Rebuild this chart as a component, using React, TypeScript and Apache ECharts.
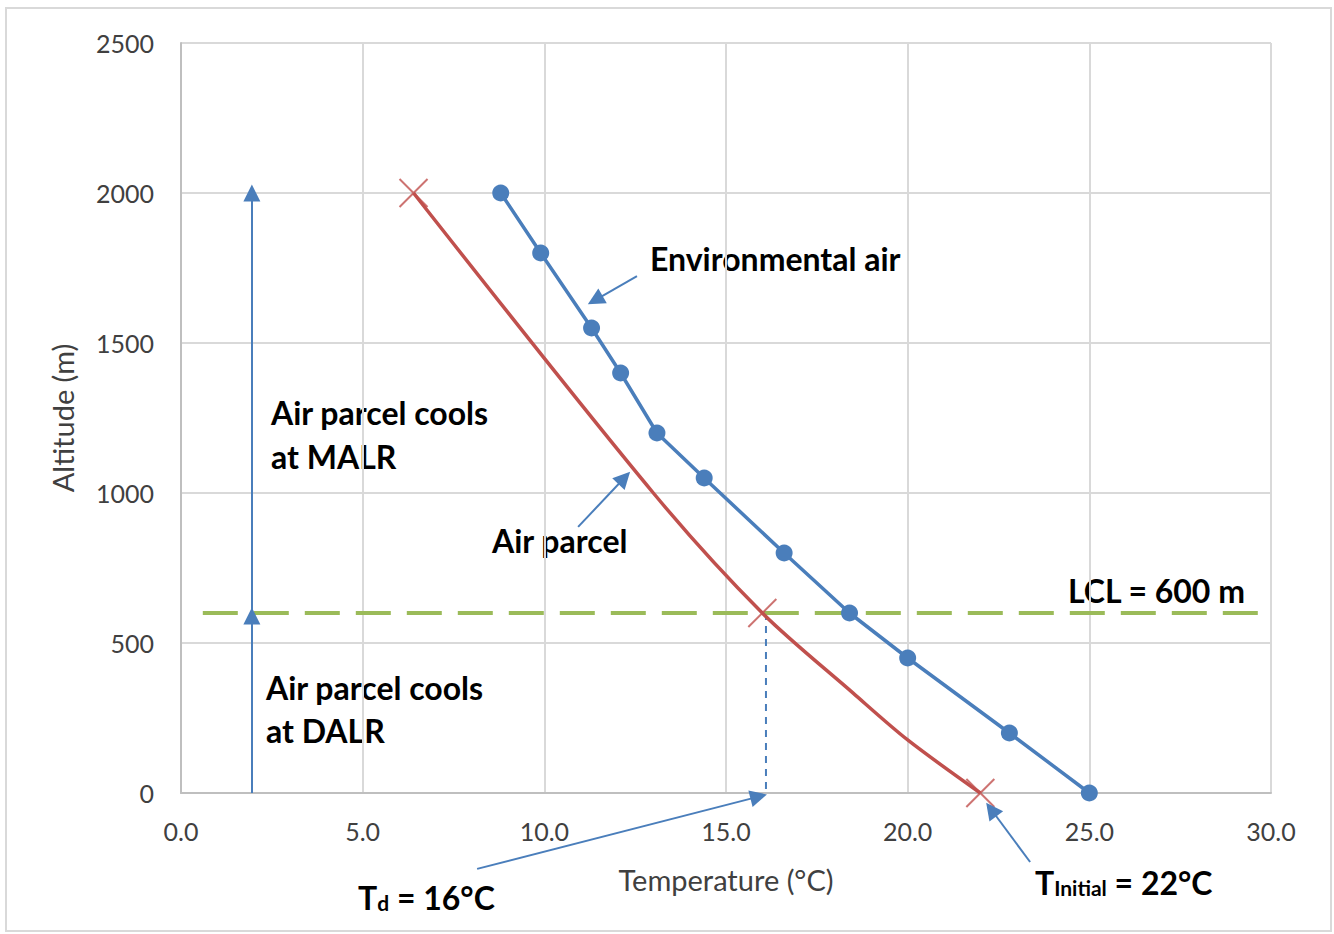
import React, { useEffect, useRef } from "react";
import * as echarts from "echarts";

// ---- data ----
const envTemp = [25.0, 22.8, 20.0, 18.4, 16.6, 14.4, 13.1, 12.1, 11.3, 9.9, 8.8];
const envAlt = [0, 200, 450, 600, 800, 1050, 1200, 1400, 1550, 1800, 2000];

const parcelTemp = [22.0, 20.0, 18.5, 16.0, 13.0, 6.4];
const parcelAlt = [0, 177, 333, 600, 1000, 2000];

const parcelMarkTemp = [22.0, 16.0, 6.4];
const parcelMarkAlt = [0, 600, 2000];

const lclAlt = 600;
const lclTempRange = [0.6, 30];

const dewPoint = 16.1;

// arrows [x1, y1, x2, y2] in data units (temperature, altitude)
const arrowDALR = [1.95, 0, 1.95, 590];
const arrowMALR = [1.95, 600, 1.95, 2000];
const arrowEnv = [12.55, 1723, 11.4, 1643];
const arrowParcel = [10.93, 887, 12.2, 1050];
const arrowTd = [8.15, -253, 15.9, -12];
const arrowTi = [23.37, -230, 22.3, -55];

const xTicks = { min: 0, max: 30, interval: 5 };
const yTicks = { min: 0, max: 2500, interval: 500 };

const BLUE = "#4A7EBB";
const RED = "#C0504D";
const GREEN = "#9BBB59";
const FONT = "Lato, 'Open Sans', sans-serif";
const BOLD = 32;
const SUB = 21;

export default function App() {
  const ref = useRef<HTMLDivElement>(null);

  useEffect(() => {
    if (!ref.current) return;
    const chart = echarts.init(ref.current, undefined, { renderer: "svg" });

    const pairs = (xs: number[], ys: number[]) => xs.map((x, i) => [x, ys[i]]);
    const arrowData = [arrowDALR, arrowMALR, arrowEnv, arrowParcel, arrowTd, arrowTi].map((a) => ({
      coords: [
        [a[0], a[1]],
        [a[2], a[3]],
      ],
    }));

    const boldText = (x: number, y: number, text: string, size = BOLD) => ({
      type: "text",
      x,
      y,
      style: {
        text,
        fill: "#000",
        font: `bold ${size}px ${FONT}`,
        textVerticalAlign: "middle",
        textAlign: "left",
      },
    });

    const subText = (x: number, y: number, main: string, sub: string, rest: string) => ({
      type: "text",
      x,
      y,
      style: {
        text: `{a|${main}}{b|${sub}}{a|${rest}}`,
        textVerticalAlign: "middle",
        rich: {
          a: { font: `bold ${BOLD}px ${FONT}`, fill: "#000", verticalAlign: "bottom" },
          b: { font: `bold ${SUB}px ${FONT}`, fill: "#000", verticalAlign: "bottom" },
        },
      },
    });

    const option: any = {
      animation: false,
      backgroundColor: "#fff",
      grid: { left: 181, right: 63, top: 43, bottom: 141, containLabel: false },
      xAxis: {
        type: "value",
        min: xTicks.min,
        max: xTicks.max,
        interval: xTicks.interval,
        name: "Temperature (°C)",
        nameLocation: "middle",
        nameGap: 72,
        nameTextStyle: { fontFamily: FONT, fontSize: 29, color: "#404040" },
        axisLine: { show: true, lineStyle: { color: "#BFBFBF", width: 2 } },
        axisTick: { show: false },
        axisLabel: {
          fontFamily: FONT,
          fontSize: 25,
          color: "#404040",
          margin: 25,
          formatter: (v: number) => v.toFixed(1),
        },
        splitLine: { show: true, lineStyle: { color: "#D9D9D9", width: 2 } },
      },
      yAxis: {
        type: "value",
        min: yTicks.min,
        max: yTicks.max,
        interval: yTicks.interval,
        name: "Altitude (m)",
        nameLocation: "middle",
        nameGap: 104,
        nameRotate: 90,
        nameTextStyle: { fontFamily: FONT, fontSize: 29, color: "#404040" },
        axisLine: { show: true, lineStyle: { color: "#BFBFBF", width: 2 } },
        axisTick: { show: false },
        axisLabel: {
          fontFamily: FONT,
          fontSize: 25,
          color: "#404040",
          margin: 27,
          formatter: (v: number) => String(v),
        },
        splitLine: { show: true, lineStyle: { color: "#D9D9D9", width: 2 } },
      },
      series: [
        {
          name: "LCL",
          type: "line",
          data: [
            [lclTempRange[0], lclAlt],
            [lclTempRange[1], lclAlt],
          ],
          symbol: "none",
          lineStyle: { color: GREEN, width: 4, type: [35, 16] },
          z: 3,
        },
        {
          name: "Td guide",
          type: "line",
          data: [
            [dewPoint, lclAlt],
            [dewPoint, 0],
          ],
          symbol: "none",
          lineStyle: { color: BLUE, width: 2, type: [7, 6] },
          z: 2,
        },
        {
          name: "Air parcel",
          type: "line",
          data: pairs(parcelTemp, parcelAlt),
          smooth: 0.3,
          symbol: "none",
          lineStyle: { color: RED, width: 3.5 },
          z: 4,
        },
        {
          name: "Air parcel marks",
          type: "scatter",
          data: pairs(parcelMarkTemp, parcelMarkAlt),
          symbol: "path://M0,0L20,20M20,0L0,20",
          symbolSize: 28,
          itemStyle: { color: "none", borderColor: RED, borderWidth: 2 },
          z: 5,
        },
        {
          name: "Environmental air",
          type: "line",
          data: pairs(envTemp, envAlt),
          symbol: "circle",
          symbolSize: 17,
          showAllSymbol: true,
          lineStyle: { color: BLUE, width: 3.5 },
          itemStyle: { color: BLUE },
          z: 6,
        },
        {
          name: "arrows",
          type: "lines",
          coordinateSystem: "cartesian2d",
          clip: false,
          data: arrowData,
          symbol: ["none", "triangle"],
          symbolSize: 17,
          lineStyle: { color: BLUE, width: 2, opacity: 1 },
          z: 7,
        },
      ],
      graphic: [
        {
          type: "rect",
          shape: { x: 6, y: 8, width: 1325, height: 923 },
          style: { fill: "none", stroke: "#D9D9D9", lineWidth: 2 },
          z: -1,
        },
        boldText(650, 258, "Environmental air"),
        boldText(271, 412, "Air parcel cools"),
        boldText(271, 456, "at MALR"),
        boldText(492, 540, "Air parcel"),
        boldText(1068, 590, "LCL = 600 m"),
        boldText(266, 687, "Air parcel cools"),
        boldText(266, 730, "at DALR"),
        subText(358, 897, "T", "d", " = 16°C"),
        subText(1035, 882, "T", "Initial", " = 22°C"),
      ],
    };

    chart.setOption(option);
    return () => chart.dispose();
  }, []);

  return (
    <div
      ref={ref}
      style={{ position: "fixed", left: 0, top: 0, width: 1334, height: 934, background: "#fff" }}
    />
  );
}
